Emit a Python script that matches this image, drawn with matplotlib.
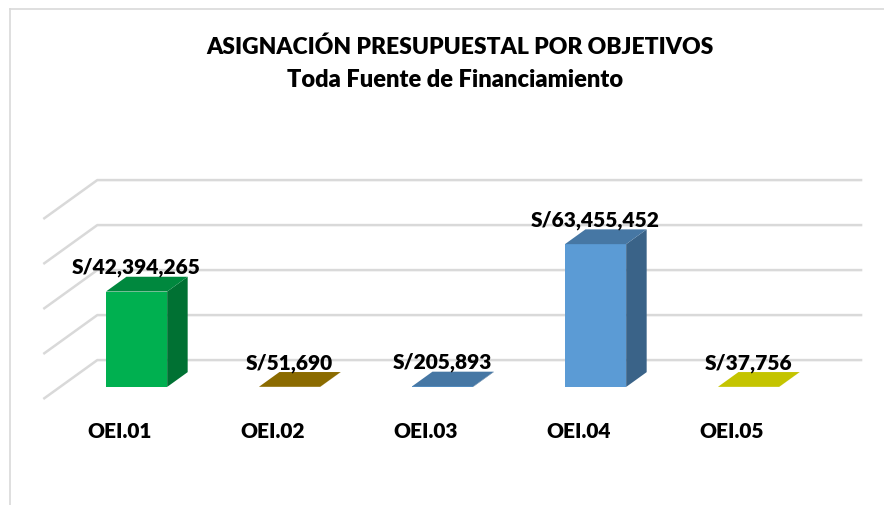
import matplotlib.pyplot as plt
from matplotlib.patches import Polygon
from matplotlib.lines import Line2D
import matplotlib.colors as mcolors
import numpy as np

# Datos (montos en soles)
categorias = ["OEI.01", "OEI.02", "OEI.03", "OEI.04", "OEI.05"]
montos = [42394265, 51690, 205893, 63455452, 37756]
colores = ["#00B050", "#B48B00", "#5B9BD5", "#5B9BD5", "#FFFF00"]
ticks_m = [0, 20, 40, 60, 80]
titulo = "ASIGNACIÓN PRESUPUESTAL POR OBJETIVOS"
subtitulo = "Toda Fuente de Financiamiento"

plt.rcParams['font.family'] = ['Lato', 'DejaVu Sans']

# proyeccion oblicua: vector de profundidad en unidades de datos (x: categoria, y: millones)
DX, DY = 0.353, 17.3
d0, d1 = 0.31, 0.69   # profundidad de la cara frontal y trasera de las barras
ancho = 0.4
x_px0, x_esc = 119.8, 153.0   # pixel de la categoria 0 y pixeles por categoria
y_px0, y_esc = 400.0, 2.25    # pixel del cero y pixeles por millon
peso = 'heavy'


def sombra(color, f):
    r, g, b = mcolors.to_rgb(color)
    return (r * f, g * f, b * f)


fig = plt.figure(figsize=(8.84, 5.06), dpi=100)
ax = fig.add_axes([0, 0, 1, 1])
ax.set_xlim(-x_px0 / x_esc, (884 - x_px0) / x_esc)
ax.set_ylim((y_px0 - 506) / y_esc, y_px0 / y_esc)
ax.axis('off')

# borde del area del grafico
fig.add_artist(Line2D([10 / 884, 10 / 884], [0, 1 - 9.5 / 506], transform=fig.transFigure,
                      color='#D9D9D9', lw=1.2))
fig.add_artist(Line2D([10 / 884, 1], [1 - 9.5 / 506, 1 - 9.5 / 506], transform=fig.transFigure,
                      color='#D9D9D9', lw=1.2))

# lineas de cuadricula (pared lateral y pared de fondo)
x_izq, x_der = -0.5, 4.5
for t in ticks_m:
    ax.plot([x_izq, x_izq + DX, x_der + DX], [t, t + DY, t + DY],
            color='#D9D9D9', lw=1.8, zorder=1, solid_capstyle='butt')

x = np.arange(len(categorias))
valores = np.array(montos) / 1e6

# cara frontal
ax.bar(x + d0 * DX, valores, width=ancho, bottom=d0 * DY, color=colores, zorder=3)

for i, (v, c) in enumerate(zip(valores, colores)):
    xl = i + d0 * DX - ancho / 2
    xr = i + d0 * DX + ancho / 2
    sup = [(xl, v + d0 * DY),
           (xr, v + d0 * DY),
           (xr + (d1 - d0) * DX, v + d1 * DY),
           (xl + (d1 - d0) * DX, v + d1 * DY)]
    lado = [(xr, d0 * DY), (xr + (d1 - d0) * DX, d1 * DY),
            (xr + (d1 - d0) * DX, v + d1 * DY), (xr, v + d0 * DY)]
    ax.add_patch(Polygon(lado, closed=True, facecolor=sombra(c, 0.64), edgecolor='none', zorder=2))
    ax.add_patch(Polygon(sup, closed=True, facecolor=sombra(c, 0.77), edgecolor='none', zorder=4))
    ax.text(i + d0 * DX, v + d1 * DY + 1.7, "S/{:,}".format(montos[i]),
            ha='center', va='baseline', fontsize=15, fontweight=peso, color='black', zorder=5)
    ax.text(i, -14.2, categorias[i], ha='center', va='center', fontsize=15,
            fontweight=peso, color='black')

fig.text(460 / 884, 1 - 47 / 506, titulo, ha='center', va='center', fontsize=16.5, fontweight=peso)
fig.text(455 / 884, 1 - 80 / 506, subtitulo, ha='center', va='center', fontsize=17, fontweight=peso)

fig.savefig('out.png', dpi=100)
